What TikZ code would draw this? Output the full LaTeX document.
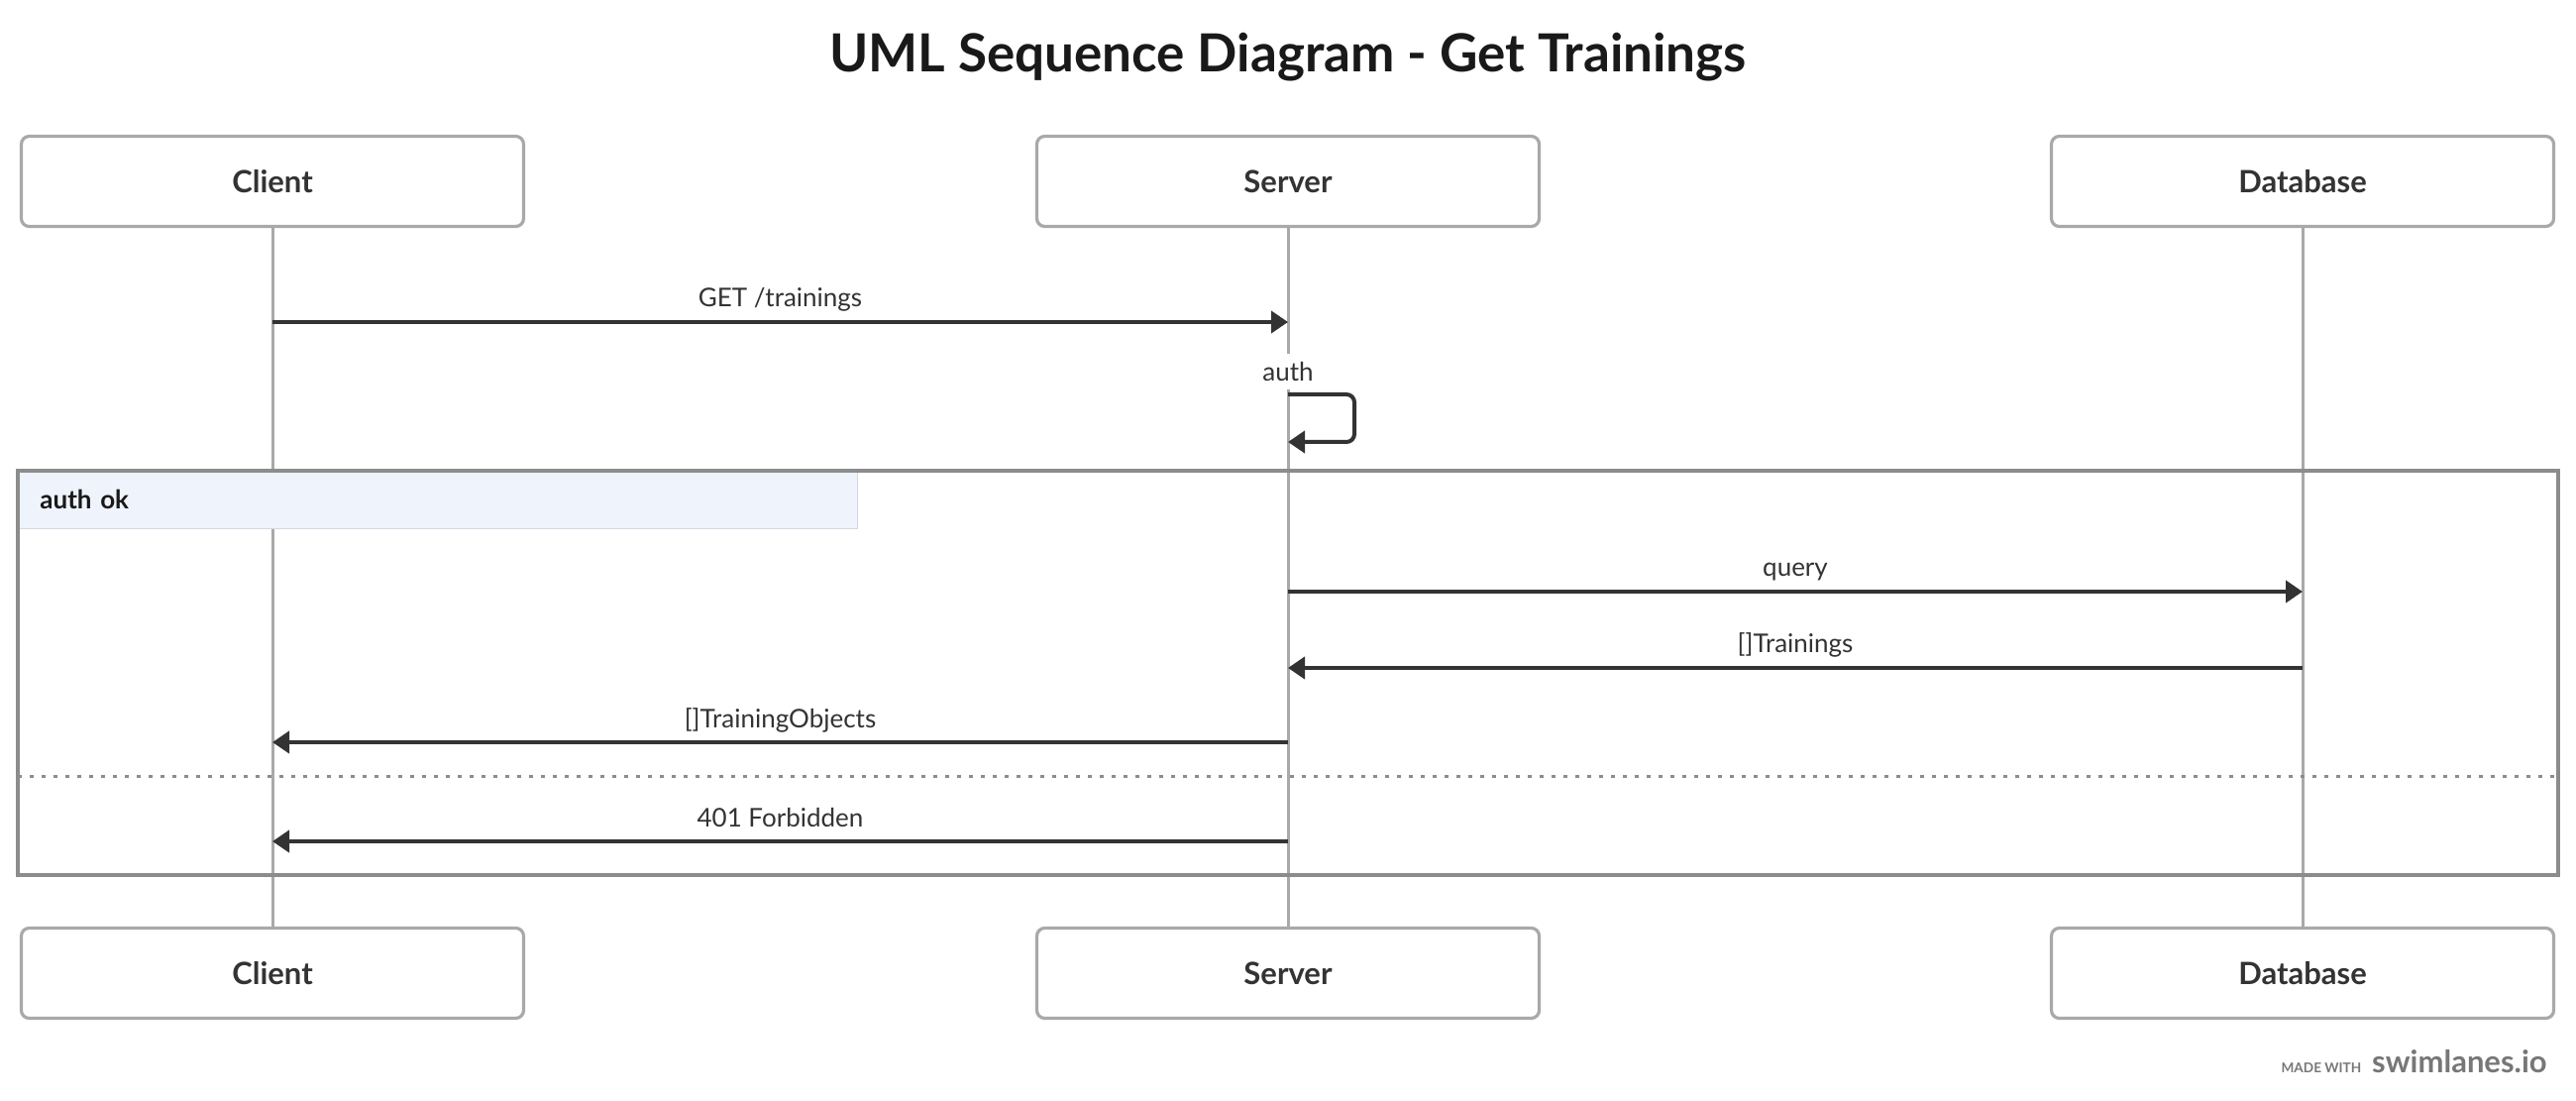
\documentclass[tikz,border=0pt]{standalone}
\usepackage{fontspec}
\setmainfont{Lato}
\usetikzlibrary{arrows.meta}
\definecolor{ink}{HTML}{333333}
\definecolor{rule}{HTML}{A9A9A9}
\definecolor{framegray}{HTML}{8C8C8C}
\definecolor{headfill}{HTML}{EFF3FB}
\definecolor{headline}{HTML}{D3D7DF}
\definecolor{footgray}{HTML}{777777}
\begin{document}
\begin{tikzpicture}[x=0.5pt,y=-0.5pt,
    actor/.style={draw=rule, line width=1.6pt, rounded corners=4pt, fill=white,
      minimum width=253.5pt, minimum height=45.5pt, text=ink,
      font=\fontsize{15.5}{18}\selectfont\bfseries},
    lifeline/.style={draw=rule, line width=1.5pt},
    msg/.style={draw=ink, line width=2pt, -{Triangle[length=8.5pt,width=11pt]}},
    lbl/.style={text=ink, font=\fontsize{13}{16}\selectfont, inner sep=1pt},
    above lbl/.style={lbl, anchor=base, yshift=7.5pt}
  ]
  \useasboundingbox (0,0) rectangle (2600,1111);
  \node[font=\fontsize{26.5}{32}\selectfont\bfseries, text=black!90] (title) at (1300,58)
    {UML Sequence Diagram - Get Trainings};

  % participants, top and bottom
  \node[actor] (client) at (275,183) {Client};
  \node[actor] (server) at (1300,183) {Server};
  \node[actor] (db) at (2324,183) {Database};
  \node[actor] (client2) at (275,982) {Client};
  \node[actor] (server2) at (1300,982) {Server};
  \node[actor] (db2) at (2324,982) {Database};

  \begin{scope}[lifeline]
    \draw (client) -- (client2);
    \draw (server) -- (server2);
    \draw (db) -- (db2);
  \end{scope}

  % alt fragment
  \node[fill=headfill, anchor=north west, minimum width=423.5pt, minimum height=29pt,
    text width=401.5pt, inner xsep=11pt, align=left, text=black!90,
    font=\fontsize{13}{16}\selectfont\bfseries] (guard) at (18,475) {auth ok};
  \draw[headline, line width=0.6pt] (guard.south west) -- (guard.south east) -- (guard.north east);
  \draw[framegray, line width=1.8pt] (18,475) rectangle (2582,883);
  \draw[framegray, line width=1.5pt, dash pattern=on 2pt off 4pt] (18,783) -- (2582,783);

  % messages
  \draw[msg] (client |- 0,325) -- node[above lbl] (lGet) {GET /trainings} (server |- 0,325);
  \node[lbl, fill=white, minimum height=18pt] (lAuth) at (1300,375) {auth};
  \draw[msg, rounded corners=4pt] (server |- 0,398) -- ++(67,0) -- ++(0,48) -- (server |- 0,446);
  \draw[msg] (server |- 0,597) -- node[above lbl] (lQuery) {query} (db |- 0,597);
  \draw[msg] (db |- 0,674) -- node[above lbl] (lRows) {[]Trainings} (server |- 0,674);
  \draw[msg] (server |- 0,749) -- node[above lbl] (lObjs) {[]TrainingObjects} (client |- 0,749);
  \draw[msg] (server |- 0,849) -- node[above lbl] (lDeny) {401 Forbidden} (client |- 0,849);

  % footer
  \node[anchor=base east, text=footgray, inner sep=0pt,
    font=\fontsize{15.5}{18}\selectfont\bfseries] (brand) at (2571,1082) {swimlanes.io};
  \node[anchor=base east, text=footgray, inner sep=0pt,
    font=\fontsize{6.8}{8}\selectfont\bfseries] (made) at ([xshift=-5pt]brand.base west) {MADE WITH};
\end{tikzpicture}
\end{document}
